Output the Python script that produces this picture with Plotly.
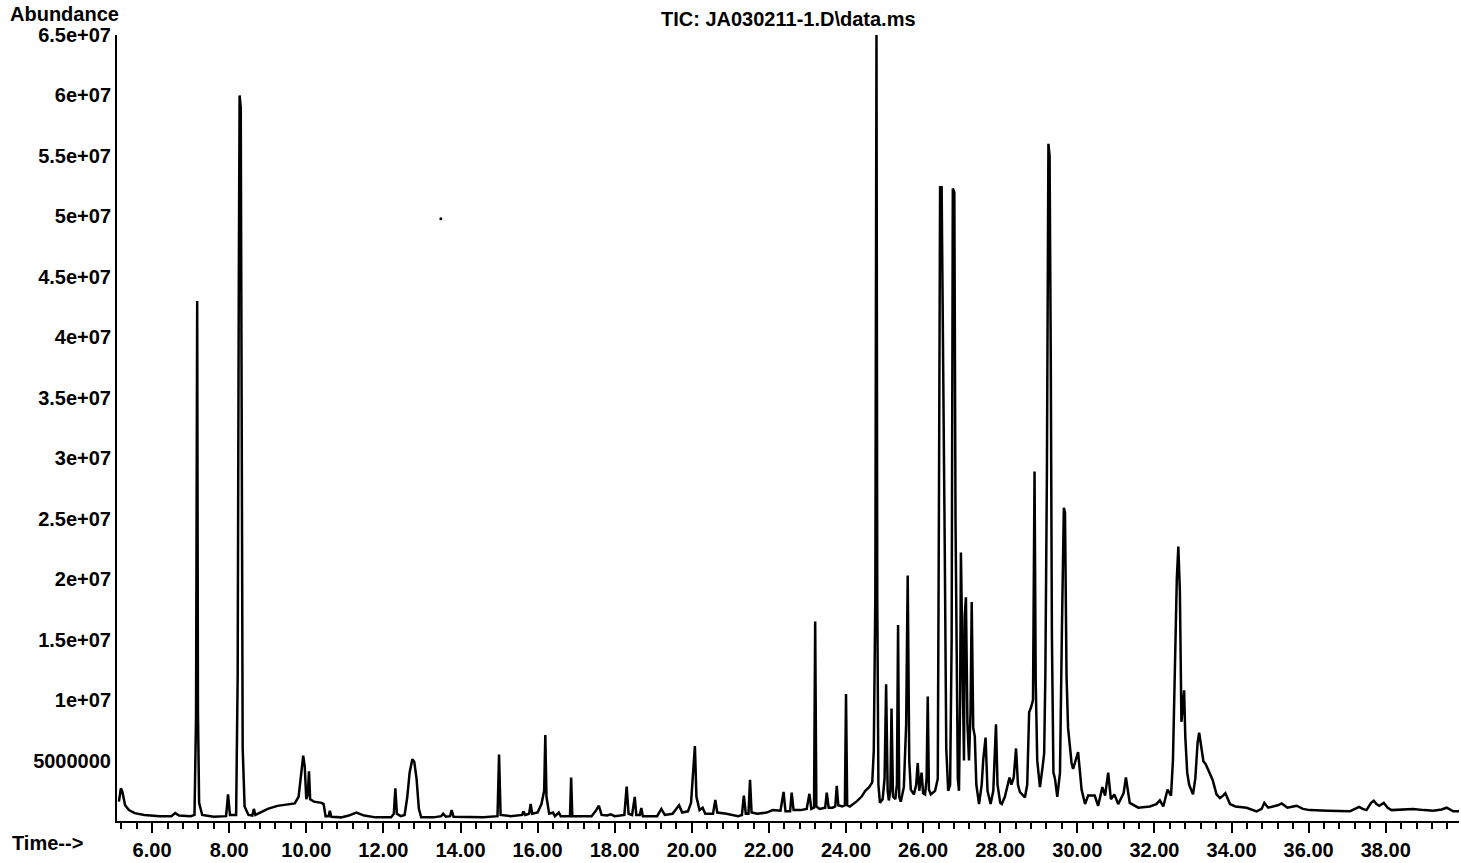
import plotly.graph_objects as go

# Retention time (min) and abundance (millions of counts)
time_min = [
    5.14, 5.19, 5.23, 5.30, 5.40, 5.55, 5.80, 6.20, 6.50, 6.60, 6.70, 7.00, 7.10, 7.14, 7.17, 7.19, 7.22, 7.30,
    7.60, 7.92, 7.97, 8.02, 8.18, 8.22, 8.25, 8.27, 8.30, 8.32, 8.35, 8.40, 8.50, 8.60, 8.64, 8.68, 8.80, 9.00,
    9.25, 9.50, 9.70, 9.80, 9.86, 9.92, 9.96, 10.00, 10.04, 10.07, 10.10, 10.20, 10.40, 10.45, 10.50, 10.58,
    10.61, 10.65, 10.90, 11.10, 11.30, 11.50, 11.80, 12.20, 12.27, 12.31, 12.35, 12.45, 12.55, 12.62, 12.68,
    12.75, 12.80, 12.86, 12.92, 12.98, 13.30, 13.50, 13.55, 13.62, 13.73, 13.77, 13.82, 14.20, 14.60, 14.96,
    15.00, 15.04, 15.30, 15.60, 15.63, 15.68, 15.78, 15.82, 15.86, 16.00, 16.10, 16.17, 16.20, 16.23, 16.30,
    16.40, 16.45, 16.55, 16.60, 16.84, 16.87, 16.90, 17.40, 17.50, 17.59, 17.66, 17.80, 17.90, 18.00, 18.25,
    18.31, 18.36, 18.45, 18.52, 18.56, 18.65, 18.69, 18.73, 19.10, 19.21, 19.30, 19.50, 19.67, 19.75, 19.90,
    19.98, 20.03, 20.08, 20.12, 20.20, 20.28, 20.35, 20.55, 20.61, 20.66, 20.90, 21.20, 21.30, 21.35, 21.40,
    21.47, 21.51, 21.55, 21.70, 21.94, 22.10, 22.30, 22.38, 22.43, 22.55, 22.59, 22.64, 22.82, 22.98, 23.05,
    23.10, 23.17, 23.20, 23.23, 23.32, 23.46, 23.50, 23.55, 23.65, 23.72, 23.76, 23.80, 23.90, 23.97, 24.00,
    24.03, 24.10, 24.27, 24.40, 24.50, 24.60, 24.68, 24.72, 24.76, 24.79, 24.81, 24.84, 24.88, 24.95, 25.00,
    25.04, 25.08, 25.11, 25.15, 25.18, 25.22, 25.28, 25.32, 25.35, 25.38, 25.42, 25.50, 25.56, 25.60, 25.64,
    25.68, 25.76, 25.82, 25.86, 25.90, 25.96, 26.00, 26.05, 26.09, 26.12, 26.15, 26.20, 26.31, 26.38, 26.41,
    26.44, 26.48, 26.52, 26.56, 26.60, 26.65, 26.70, 26.74, 26.77, 26.81, 26.84, 26.87, 26.90, 26.93, 26.96,
    26.98, 27.02, 27.06, 27.08, 27.11, 27.15, 27.19, 27.23, 27.26, 27.30, 27.34, 27.38, 27.45, 27.52, 27.56,
    27.62, 27.67, 27.75, 27.82, 27.89, 27.93, 28.00, 28.04, 28.12, 28.20, 28.24, 28.29, 28.35, 28.41, 28.46,
    28.51, 28.58, 28.64, 28.70, 28.75, 28.80, 28.85, 28.89, 28.92, 28.96, 29.03, 29.10, 29.14, 29.17, 29.21,
    29.25, 29.28, 29.31, 29.34, 29.38, 29.42, 29.48, 29.55, 29.60, 29.65, 29.68, 29.72, 29.76, 29.85, 29.89,
    29.95, 30.02, 30.07, 30.11, 30.20, 30.28, 30.45, 30.54, 30.65, 30.72, 30.80, 30.87, 30.96, 31.06, 31.20,
    31.26, 31.36, 31.58, 31.88, 32.05, 32.14, 32.23, 32.34, 32.43, 32.48, 32.53, 32.58, 32.62, 32.66, 32.70,
    32.74, 32.77, 32.80, 32.85, 32.90, 33.00, 33.06, 33.12, 33.16, 33.22, 33.27, 33.33, 33.39, 33.45, 33.51,
    33.61, 33.70, 33.78, 33.84, 33.96, 34.10, 34.39, 34.65, 34.78, 34.85, 34.95, 35.10, 35.20, 35.30, 35.45,
    35.60, 35.69, 35.85, 36.03, 36.50, 37.07, 37.20, 37.31, 37.40, 37.50, 37.62, 37.69, 37.76, 37.83, 37.95,
    38.05, 38.15, 38.40, 38.71, 39.00, 39.23, 39.45, 39.58, 39.75, 39.90,
]

abundance_millions = [
    1.6, 2.7, 2.4, 1.3, 0.9, 0.65, 0.5, 0.4, 0.4, 0.65, 0.45, 0.4, 0.5, 8.5, 43.0, 9.0, 1.5, 0.5,
    0.35, 0.4, 2.2, 0.5, 0.5, 12.0, 45.0, 60.0, 59.0, 30.0, 6.0, 1.2, 0.5, 0.45, 1.0, 0.5, 0.7, 1.0,
    1.25, 1.35, 1.45, 2.0, 3.8, 5.4, 4.5, 1.8, 2.2, 4.1, 1.8, 1.6, 1.5, 1.4, 0.4, 0.4,
    0.85, 0.35, 0.3, 0.45, 0.7, 0.45, 0.3, 0.3, 0.6, 2.7, 0.6, 0.4, 0.5, 2.0, 4.0,
    5.1, 4.9, 3.5, 1.0, 0.3, 0.3, 0.4, 0.6, 0.35, 0.4, 0.9, 0.35, 0.3, 0.3, 0.4,
    5.5, 0.5, 0.4, 0.5, 0.8, 0.5, 0.6, 1.4, 0.6, 0.7, 1.4, 2.5, 7.1, 2.0, 0.6,
    0.7, 0.4, 0.7, 0.4, 0.4, 3.6, 0.4, 0.4, 0.8, 1.26, 0.5, 0.45, 0.55, 0.4, 0.5,
    2.85, 0.6, 0.5, 2.0, 0.5, 0.5, 1.07, 0.4, 0.4, 1.0, 0.5, 0.6, 1.3, 0.7, 0.8,
    1.5, 3.8, 6.2, 2.0, 0.9, 1.1, 0.6, 0.6, 1.75, 0.7, 0.6, 0.4, 0.5, 2.1, 0.6,
    0.6, 3.4, 0.7, 0.6, 0.7, 0.9, 0.85, 2.4, 0.8, 0.8, 2.35, 0.9, 0.9, 1.0, 2.25,
    1.0, 1.1, 16.5, 1.2, 1.0, 1.1, 2.35, 1.1, 1.1, 1.2, 2.9, 1.3, 1.2, 1.3, 10.5,
    1.3, 1.2, 1.6, 2.0, 2.5, 2.8, 3.2, 5.8, 18.5, 65.0, 18.5, 3.0, 1.5, 1.8, 3.5,
    11.3, 2.5, 1.7, 2.5, 9.3, 2.0, 1.8, 3.0, 16.2, 2.0, 1.6, 2.8, 8.0, 20.3, 5.0,
    2.6, 2.2, 3.0, 4.8, 2.5, 4.0, 2.3, 2.2, 3.5, 10.3, 2.6, 2.2, 2.5, 3.5, 26.0,
    52.4, 52.4, 33.5, 23.0, 6.0, 2.5, 3.0, 15.0, 52.3, 52.0, 25.0, 14.0, 3.5, 2.5, 10.0,
    22.2, 15.0, 5.0, 17.0, 18.5, 8.0, 5.0, 9.0, 18.1, 7.7, 7.0, 3.0, 1.4, 3.0, 5.1,
    6.9, 2.5, 1.4, 2.5, 8.0, 3.0, 1.5, 1.4, 2.0, 3.0, 3.6, 3.0, 3.6, 6.0, 3.0,
    2.4, 2.2, 1.95, 3.0, 9.0, 9.4, 10.0, 28.9, 11.6, 5.0, 2.8, 4.5, 5.6, 12.0, 28.5,
    56.0, 55.0, 39.0, 15.4, 4.0, 3.5, 2.0, 4.0, 15.8, 25.9, 25.5, 12.0, 7.7, 4.8, 4.3,
    5.0, 5.7, 4.0, 2.6, 1.4, 2.1, 2.1, 1.26, 2.8, 2.1, 4.0, 1.8, 2.2, 1.4, 2.3,
    3.6, 1.5, 1.1, 1.2, 1.4, 1.7, 1.2, 2.6, 2.1, 5.0, 11.8, 20.0, 22.7, 19.0, 8.2,
    9.5, 10.8, 7.0, 4.0, 3.0, 2.2, 3.5, 6.5, 7.3, 6.0, 4.95, 4.7, 4.3, 3.8, 3.4,
    2.2, 1.9, 2.1, 2.3, 1.4, 1.2, 1.1, 0.8, 1.0, 1.5, 1.1, 1.2, 1.3, 1.45, 1.1,
    1.2, 1.26, 1.0, 0.9, 0.85, 0.8, 1.0, 1.17, 1.0, 0.9, 1.5, 1.67, 1.4, 1.26, 1.5,
    1.1, 0.9, 0.95, 1.0, 0.9, 0.85, 0.95, 1.1, 0.8, 0.8,
]

# stray speck on the scanned page
speck_time = [13.49]
speck_value = [49.8]

y_tick_values = [5, 10, 15, 20, 25, 30, 35, 40, 45, 50, 55, 60, 65]
y_tick_labels = ["5000000", "1e+07", "1.5e+07", "2e+07", "2.5e+07", "3e+07", "3.5e+07",
                 "4e+07", "4.5e+07", "5e+07", "5.5e+07", "6e+07", "6.5e+07"]
x_tick_values = [6, 8, 10, 12, 14, 16, 18, 20, 22, 24, 26, 28, 30, 32, 34, 36, 38]
x_tick_labels = ["6.00", "8.00", "10.00", "12.00", "14.00", "16.00", "18.00", "20.00", "22.00",
                 "24.00", "26.00", "28.00", "30.00", "32.00", "34.00", "36.00", "38.00"]

FONT = "Liberation Sans, Arial, sans-serif"
W, H = 1461, 863
L, R, T, B = 117, 2, 35, 36
PW, PH = W - L - R, H - T - B


def px_x(px):
    return (px - L) / PW


def px_y(py):
    return (H - B - py) / PH


fig = go.Figure()
fig.add_trace(go.Scatter(x=time_min, y=abundance_millions, mode="lines",
                         line=dict(color="black", width=2.5), hoverinfo="x+y", showlegend=False))
fig.add_trace(go.Scatter(x=speck_time, y=speck_value, mode="markers",
                         marker=dict(color="black", size=3), showlegend=False))

tickfont = dict(family=FONT, size=20, color="black", weight="bold")

fig.update_layout(
    width=W, height=H, autosize=False,
    margin=dict(l=L, r=R, t=T, b=B, pad=0),
    paper_bgcolor="white", plot_bgcolor="white",
    xaxis=dict(range=[5.09, 39.9], showgrid=False, zeroline=False,
               showline=True, linecolor="black", linewidth=2,
               tickmode="array", tickvals=x_tick_values, ticktext=x_tick_labels,
               ticks="outside", ticklen=10, tickwidth=2, tickcolor="black",
               minor=dict(ticks="outside", ticklen=6, tickwidth=2, tickcolor="black",
                          dtick=0.4, tick0=6, showgrid=False),
               tickfont=tickfont),
    yaxis=dict(range=[0, 65], showgrid=False, zeroline=False,
               showline=True, linecolor="black", linewidth=2,
               tickmode="array", tickvals=y_tick_values, ticktext=y_tick_labels,
               ticks="", tickfont=tickfont),
    annotations=[
        dict(text="Abundance", xref="paper", yref="paper", x=px_x(8), y=px_y(14),
             xanchor="left", yanchor="middle", showarrow=False,
             font=dict(family=FONT, size=20, color="black", weight="bold")),
        dict(text="TIC: JA030211-1.D\\data.ms", xref="paper", yref="paper", x=px_x(788), y=px_y(19),
             xanchor="center", yanchor="middle", showarrow=False,
             font=dict(family=FONT, size=20, color="black", weight="bold")),
        dict(text="Time-->", xref="paper", yref="paper", x=px_x(10), y=px_y(849),
             xanchor="left", yanchor="middle", showarrow=False,
             font=dict(family=FONT, size=20, color="black", weight="bold")),
    ],
)

fig.write_html("out.html", config={"displayModeBar": False},
               post_script="document.body.style.margin='0';document.body.style.overflow='hidden';")
